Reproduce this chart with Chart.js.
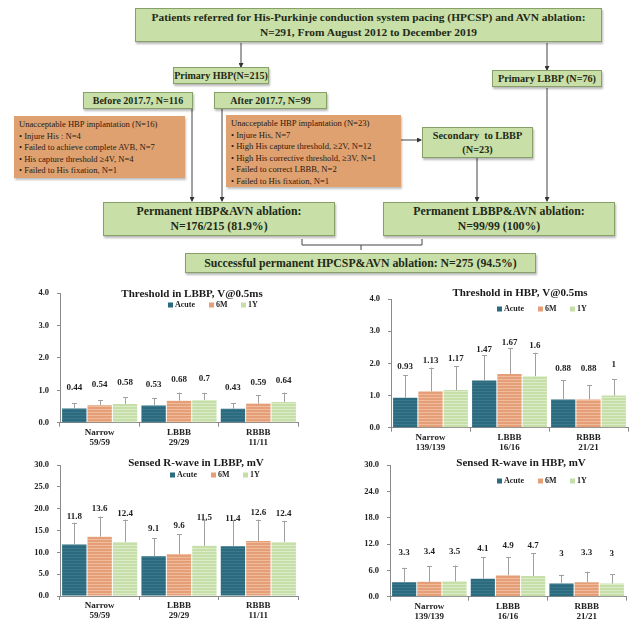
<!DOCTYPE html>
<html><head><meta charset="utf-8">
<script src="https://cdn.jsdelivr.net/npm/chart.js@4.4.1/dist/chart.umd.min.js"></script>
<style>
html,body{margin:0;padding:0;}
body{width:632px;height:625px;background:#fff;position:relative;overflow:hidden;font-family:"Liberation Serif",serif;}
.box{position:absolute;box-sizing:border-box;background:#c8dfa7;border:1px solid #86a068;box-shadow:1px 2px 2px rgba(0,0,0,0.28);text-align:center;color:#1f2a18;font-weight:bold;white-space:nowrap;display:flex;flex-direction:column;justify-content:center;}
.ob{position:absolute;box-sizing:border-box;background:#e0a171;box-shadow:1px 2px 2px rgba(0,0,0,0.25);color:#2b1a0e;font-size:8.6px;line-height:11.6px;padding:3px 0 0 5px;white-space:nowrap;}
svg{position:absolute;left:0;top:0;}
canvas{position:absolute;}
</style></head><body>

<svg width="632" height="290">
<defs><marker id="ah" markerWidth="5" markerHeight="5" refX="4" refY="2.5" orient="auto" markerUnits="userSpaceOnUse"><path d="M0,0 L5,2.5 L0,5 z" fill="#333"/></marker></defs>
<g stroke="#444" stroke-width="1" fill="none">
<line x1="241" y1="43" x2="241" y2="67" marker-end="url(#ah)"/>
<line x1="547" y1="43" x2="547" y2="70" marker-end="url(#ah)"/>
<line x1="192" y1="109" x2="192" y2="201" marker-end="url(#ah)"/>
<line x1="222" y1="109" x2="222" y2="201" marker-end="url(#ah)"/>
<line x1="401" y1="140" x2="421" y2="140" marker-end="url(#ah)"/>
<line x1="477" y1="158" x2="477" y2="201" marker-end="url(#ah)"/>
<line x1="547" y1="88" x2="547" y2="201" marker-end="url(#ah)"/>
<polyline points="302,239 302,245 422,245 422,239"/>
<line x1="361" y1="245" x2="361" y2="250"/>
</g>
</svg>

<div class="box" style="left:135px;top:8px;width:467px;height:34px;font-size:11.4px;line-height:15px;"><div>Patients referred for His-Purkinje conduction system pacing (HPCSP) and AVN ablation:</div><div>N=291, From August 2012 to December 2019</div></div>
<div class="box" style="left:173px;top:67px;width:96px;height:17px;font-size:10px;">Primary HBP(N=215)</div>
<div class="box" style="left:492px;top:70px;width:110px;height:17px;font-size:10.2px;">Primary LBBP (N=76)</div>
<div class="box" style="left:83px;top:92px;width:110px;height:17px;font-size:10px;">Before 2017.7, N=116</div>
<div class="box" style="left:214px;top:92px;width:113px;height:17px;font-size:10px;">After 2017.7, N=99</div>
<div class="ob" style="left:14px;top:116px;width:171px;height:62px;">Unacceptable HBP implantation (N=16)<br>• Injure His : N=4<br>• Failed to achieve complete AVB, N=7<br>• His capture threshold ≥4V, N=4<br>• Failed to His fixation, N=1</div>
<div class="ob" style="left:226px;top:115px;width:175px;height:72px;">Unacceptable HBP implantation (N=23)<br>• Injure His, N=7<br>• High His capture threshold, ≥2V, N=12<br>• High His corrective threshold, ≥3V, N=1<br>• Failed to correct LBBB, N=2<br>• Failed to His fixation, N=1</div>
<div class="box" style="left:422px;top:127px;width:111px;height:31px;font-size:10.3px;line-height:14px;"><div>Secondary&nbsp; to LBBP</div><div>(N=23)</div></div>
<div class="box" style="left:103px;top:202px;width:232px;height:34px;font-size:11.8px;line-height:15px;"><div>Permanent HBP&amp;AVN ablation:</div><div>N=176/215 (81.9%)</div></div>
<div class="box" style="left:383px;top:202px;width:232px;height:34px;font-size:11.8px;line-height:15px;"><div>Permanent LBBP&amp;AVN ablation:</div><div>N=99/99 (100%)</div></div>
<div class="box" style="left:185px;top:253px;width:351px;height:20px;font-size:11.8px;">Successful permanent HPCSP&amp;AVN ablation: N=275 (94.5%)</div>

<canvas id="c1"></canvas>
<canvas id="c2"></canvas>
<canvas id="c3"></canvas>
<canvas id="c4"></canvas>

<script>
// ---------- data ----------
const seriesNames = ['Acute', '6M', '1Y'];
const catsLBBP = [['Narrow', '59/59'], ['LBBB', '29/29'], ['RBBB', '11/11']];
const catsHBP = [['Narrow', '139/139'], ['LBBB', '16/16'], ['RBBB', '21/21']];

// Threshold in LBBP, V@0.5ms
const thrLBBP_Acute = [0.44, 0.53, 0.43];
const thrLBBP_6M = [0.54, 0.68, 0.59];
const thrLBBP_1Y = [0.58, 0.7, 0.64];
const thrLBBP_sdAcute = [0.16, 0.22, 0.18];
const thrLBBP_sd6M = [0.16, 0.25, 0.26];
const thrLBBP_sd1Y = [0.20, 0.22, 0.29];

// Threshold in HBP, V@0.5ms
const thrHBP_Acute = [0.93, 1.47, 0.88];
const thrHBP_6M = [1.13, 1.67, 0.88];
const thrHBP_1Y = [1.17, 1.6, 1];
const thrHBP_sdAcute = [0.71, 0.79, 0.60];
const thrHBP_sd6M = [0.74, 0.80, 0.45];
const thrHBP_sd1Y = [0.75, 0.73, 0.51];

// Sensed R-wave in LBBP, mV
const rLBBP_Acute = [11.8, 9.1, 11.4];
const rLBBP_6M = [13.6, 9.6, 12.6];
const rLBBP_1Y = [12.4, 11.5, 12.4];
const rLBBP_sdAcute = [5.0, 4.1, 6.0];
const rLBBP_sd6M = [4.6, 4.6, 4.9];
const rLBBP_sd1Y = [5.1, 6.0, 4.8];

// Sensed R-wave in HBP, mV
const rHBP_Acute = [3.3, 4.1, 3];
const rHBP_6M = [3.4, 4.9, 3.3];
const rHBP_1Y = [3.5, 4.7, 3];
const rHBP_sdAcute = [3.3, 4.9, 2.0];
const rHBP_sd6M = [3.55, 4.1, 2.4];
const rHBP_sd1Y = [3.6, 5.2, 2.1];

// ---------- styling helpers ----------
const COL = ['#2b6a7f', '#e49f78', '#c6dfa8'];
const STRIPE = ['#3a788c', '#f0bc9c', '#dcecc8'];
function stripePattern(base, line) {
  const c = document.createElement('canvas');
  c.width = 4; c.height = 3;
  const g = c.getContext('2d');
  g.fillStyle = base; g.fillRect(0, 0, 4, 3);
  g.fillStyle = line; g.fillRect(0, 0, 4, 1);
  return g.createPattern(c, 'repeat');
}
const FONT = '"Liberation Serif", "Times New Roman", serif';

const overlayPlugin = {
  id: 'overlay',
  afterDatasetsDraw(chart) {
    const o = chart.options.plugins.overlay;
    const ctx = chart.ctx;
    const y = chart.scales.y;
    ctx.save();
    // error bars
    chart.data.datasets.forEach((ds, di) => {
      const meta = chart.getDatasetMeta(di);
      meta.data.forEach((el, i) => {
        const top = y.getPixelForValue(ds.data[i] + ds.sd[i]);
        ctx.strokeStyle = '#a0a0a0'; ctx.lineWidth = 1;
        ctx.beginPath();
        ctx.moveTo(Math.round(el.x) + 0.5, el.y);
        ctx.lineTo(Math.round(el.x) + 0.5, top);
        ctx.moveTo(Math.round(el.x) - 2, Math.round(top) + 0.5);
        ctx.lineTo(Math.round(el.x) + 3, Math.round(top) + 0.5);
        ctx.stroke();
      });
    });
    // value labels
    ctx.fillStyle = '#1e1e1e';
    ctx.font = 'bold 9px ' + FONT;
    ctx.textAlign = 'center'; ctx.textBaseline = 'middle';
    chart.data.datasets.forEach((ds, di) => {
      const meta = chart.getDatasetMeta(di);
      meta.data.forEach((el, i) => {
        ctx.fillText(String(ds.data[i]), el.x, el.y - o.labelOff);
      });
    });
    // title
    ctx.font = 'bold 11px ' + FONT;
    ctx.fillStyle = '#1a1a1a';
    ctx.fillText(o.title, o.titleX, o.titleY);
    // legend
    ctx.font = 'bold 8px ' + FONT;
    ctx.textAlign = 'left';
    const offs = [0, 41, 73];
    chart.data.datasets.forEach((ds, di) => {
      const lx = o.legX + offs[di];
      ctx.fillStyle = COL[di];
      ctx.fillRect(lx, o.legY - 2.5, 5, 5);
      ctx.fillStyle = '#1e1e1e';
      ctx.fillText(ds.label, lx + 7, o.legY);
    });
    ctx.restore();
  }
};

function makeChart(id, canvasRect, plotRect, cats, vals, sds, ymax, step, title, titlePos, legPos, labelOff) {
  const cv = document.getElementById(id);
  const [cx, cy, cw, ch] = canvasRect;
  const [pl, pt, pr, pb] = plotRect;
  cv.style.left = cx + 'px'; cv.style.top = cy + 'px';
  cv.width = cw; cv.height = ch;
  cv.style.width = cw + 'px'; cv.style.height = ch + 'px';
  const datasets = vals.map((v, i) => ({
    label: seriesNames[i],
    data: v,
    sd: sds[i],
    backgroundColor: stripePattern(COL[i], STRIPE[i]),
    borderWidth: 0,
    barPercentage: 0.96,
    categoryPercentage: 0.96
  }));
  return new Chart(cv, {
    type: 'bar',
    data: { labels: cats, datasets },
    options: {
      responsive: false, animation: false, devicePixelRatio: 1,
      layout: { padding: { left: 0, top: pt - cy, right: cx + cw - pr, bottom: 0 } },
      plugins: {
        legend: { display: false }, tooltip: { enabled: false }, title: { display: false },
        overlay: { title, titleX: titlePos[0], titleY: titlePos[1], legX: legPos[0], legY: legPos[1], labelOff }
      },
      scales: {
        x: {
          grid: { display: true, drawOnChartArea: false, drawTicks: true, tickLength: 4, color: '#8a8a8a', offset: true },
          border: { color: '#8a8a8a' },
          ticks: { color: '#222', font: { family: FONT, size: 9, weight: 'bold', lineHeight: 1.12 }, padding: 1, maxRotation: 0, autoSkip: false },
          afterFit(s) { s.height = cy + ch - pb; }
        },
        y: {
          min: 0, max: ymax,
          grid: { display: true, drawOnChartArea: false, drawTicks: true, tickLength: 3, color: '#8a8a8a' },
          border: { color: '#8a8a8a' },
          ticks: { stepSize: step, color: '#222', padding: 8, font: { family: FONT, size: 8.5, weight: 'bold' }, callback: v => Number(v).toFixed(1) },
          afterFit(s) { s.width = pl - cx; }
        }
      }
    },
    plugins: [overlayPlugin]
  });
}

makeChart('c1', [0, 280, 316, 172], [60, 293, 298, 422.7], catsLBBP,
  [thrLBBP_Acute, thrLBBP_6M, thrLBBP_1Y], [thrLBBP_sdAcute, thrLBBP_sd6M, thrLBBP_sd1Y],
  4, 1, 'Threshold in LBBP, V@0.5ms', [192, 14], [168, 25], 21);
makeChart('c2', [316, 280, 316, 172], [391, 299, 628, 427.7], catsHBP,
  [thrHBP_Acute, thrHBP_6M, thrHBP_1Y], [thrHBP_sdAcute, thrHBP_sd6M, thrHBP_sd1Y],
  4, 1, 'Threshold in HBP, V@0.5ms', [204, 13], [181, 29], 31);
makeChart('c3', [0, 452, 316, 173], [60, 460, 298, 596], catsLBBP,
  [rLBBP_Acute, rLBBP_6M, rLBBP_1Y], [rLBBP_sdAcute, rLBBP_sd6M, rLBBP_sd1Y],
  30, 5, 'Sensed R-wave in LBBP, mV', [196, 11], [170, 23], 28);
makeChart('c4', [316, 452, 316, 173], [390, 460, 626, 596.7], catsHBP,
  [rHBP_Acute, rHBP_6M, rHBP_1Y], [rHBP_sdAcute, rHBP_sd6M, rHBP_sd1Y],
  30, 6, 'Sensed R-wave in HBP, mV', [205, 11], [181, 29], 30);
</script>
</body></html>
